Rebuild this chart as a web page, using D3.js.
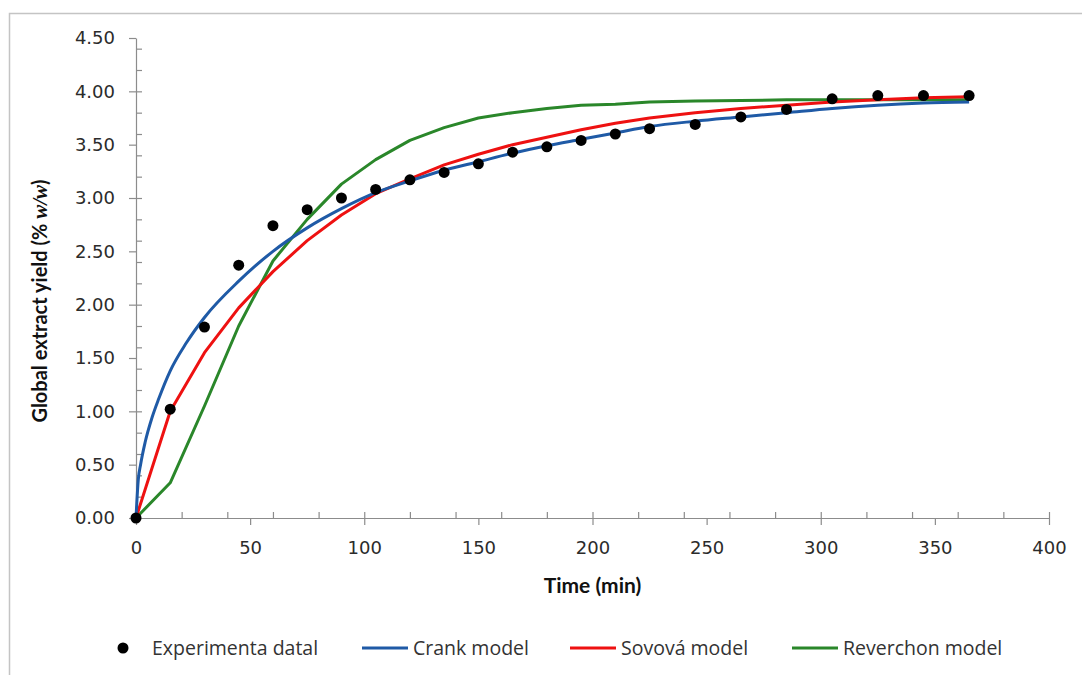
<!DOCTYPE html>
<html>
<head>
<meta charset="utf-8">
<script src="https://cdn.jsdelivr.net/npm/d3@7"></script>
<style>
  body { margin: 0; background: #fff; }
</style>
</head>
<body>
<div id="chart"></div>
<script>
// data
const expTime = [0, 15, 30, 45, 60, 75, 90, 105, 120, 135, 150, 165, 180, 195, 210, 225, 245, 265, 285, 305, 325, 345, 365]
const expYield = [0, 1.02, 1.79, 2.37, 2.74, 2.89, 3.0, 3.08, 3.17, 3.24, 3.32, 3.43, 3.48, 3.54, 3.6, 3.65, 3.69, 3.76, 3.83, 3.93, 3.96, 3.96, 3.96]

const crankTime = [0, 1, 2, 4, 7, 10, 15, 22, 30, 45, 60, 75, 90, 105, 120, 135, 150, 165, 180, 195, 210, 225, 245, 265, 285, 305, 325, 345, 365]
const crankYield = [0, 0.36, 0.5, 0.71, 0.94, 1.12, 1.38, 1.64, 1.88, 2.22, 2.5, 2.72, 2.9, 3.05, 3.16, 3.26, 3.34, 3.42, 3.49, 3.55, 3.61, 3.67, 3.72, 3.76, 3.8, 3.84, 3.87, 3.89, 3.9]

const modelTime = [0, 15, 30, 45, 60, 75, 90, 105, 120, 135, 150, 165, 180, 195, 210, 225, 245, 265, 285, 305, 325, 345, 365]
const sovovaYield = [0, 1.0, 1.55, 1.97, 2.31, 2.6, 2.84, 3.04, 3.18, 3.31, 3.41, 3.5, 3.57, 3.64, 3.7, 3.75, 3.8, 3.84, 3.87, 3.9, 3.92, 3.94, 3.95]
const reverchonYield = [0, 0.33, 1.05, 1.8, 2.41, 2.8, 3.13, 3.36, 3.54, 3.66, 3.75, 3.8, 3.84, 3.87, 3.88, 3.9, 3.91, 3.915, 3.92, 3.92, 3.92, 3.92, 3.92]

const yTicks = [0, 0.5, 1, 1.5, 2, 2.5, 3, 3.5, 4, 4.5]
const yMinor = [0, 0.2, 0.4, 0.6, 0.8, 1, 1.2, 1.4, 1.6, 1.8, 2, 2.2, 2.4, 2.6, 2.8, 3, 3.2, 3.4, 3.6, 3.8, 4, 4.2, 4.4]
const xTicks = [0, 50, 100, 150, 200, 250, 300, 350, 400]
const xMinor = [0, 20, 40, 60, 80, 100, 120, 140, 160, 180, 200, 220, 240, 260, 280, 300, 320, 340, 360, 380, 400]

const legendItems = [
  { label: 'Experimenta datal', type: 'dot', color: '#000' },
  { label: 'Crank model', type: 'line', color: '#1f5aa6' },
  { label: 'Sovová model', type: 'line', color: '#ee1111' },
  { label: 'Reverchon model', type: 'line', color: '#2a872a' },
]

// size
const W = 1082
const H = 675
const margin = { left: 136, right: 33, top: 38, bottom: 157 }
const width = W - margin.left - margin.right
const height = H - margin.top - margin.bottom

// scale
const x = d3.scaleLinear().domain([0, 400]).range([0, width])
const y = d3.scaleLinear().domain([0, 4.5]).range([height, 0])

const svg = d3
  .select('#chart')
  .append('svg')
  .attr('width', W)
  .attr('height', H)

// chart frame (runs off the right and bottom edges)
svg
  .append('rect')
  .attr('x', 9.5)
  .attr('y', 13.5)
  .attr('width', W + 20)
  .attr('height', H + 20)
  .attr('fill', 'none')
  .attr('stroke', '#c4c4c4')
  .attr('stroke-width', 1.5)

const plot = svg
  .append('g')
  .attr('transform', `translate(${margin.left}, ${margin.top})`)

const axisColor = '#8c8c8c'
const tickFont = '"DejaVu Sans", Verdana, sans-serif'

function styleAxis(g) {
  g.select('.domain').attr('stroke', axisColor).attr('stroke-width', 1.2)
  g.selectAll('.tick line').attr('stroke', axisColor).attr('stroke-width', 1.2)
  g.selectAll('.tick text')
    .attr('fill', '#2b2b2b')
    .style('font-family', tickFont)
    .style('font-size', '18px')
}

// y minor ticks (inside)
plot
  .append('g')
  .call(d3.axisLeft(y).tickValues(yMinor).tickSize(-6).tickFormat(''))
  .call(styleAxis)
  .call(g => g.select('.domain').remove())

// y axis major (outside)
plot
  .append('g')
  .call(
    d3
      .axisLeft(y)
      .tickValues(yTicks)
      .tickSize(7)
      .tickSizeOuter(0)
      .tickPadding(14)
      .tickFormat(d3.format('.2f')),
  )
  .call(styleAxis)

// x minor ticks (inside)
plot
  .append('g')
  .attr('transform', `translate(0, ${height})`)
  .call(d3.axisBottom(x).tickValues(xMinor).tickSize(-6).tickFormat(''))
  .call(styleAxis)
  .call(g => g.select('.domain').remove())

// x axis major (outside)
plot
  .append('g')
  .attr('transform', `translate(0, ${height})`)
  .call(
    d3
      .axisBottom(x)
      .tickValues(xTicks)
      .tickSize(7)
      .tickSizeOuter(0)
      .tickPadding(16)
      .tickFormat(d3.format('d')),
  )
  .call(styleAxis)

// x-axis label
plot
  .append('text')
  .attr('text-anchor', 'middle')
  .attr('x', width / 2)
  .attr('y', height + 75)
  .style('font-family', 'Lato, "Open Sans", sans-serif')
  .style('font-weight', 'bold')
  .style('font-size', '21px')
  .attr('fill', '#111')
  .text('Time (min)')

// y-axis label
const yLabel = plot
  .append('text')
  .attr('text-anchor', 'middle')
  .attr('transform', `translate(-89, ${height / 2 + 23}) rotate(-90)`)
  .style('font-family', 'Lato, "Open Sans", sans-serif')
  .style('font-weight', 'bold')
  .style('font-size', '20px')
  .attr('fill', '#111')
yLabel.append('tspan').text('Global extract yield (% ')
yLabel
  .append('tspan')
  .style('font-family', '"Liberation Serif", serif')
  .style('font-style', 'italic')
  .style('font-size', '21px')
  .text('w/w')
yLabel.append('tspan').text(')')

// lines
const line = d3
  .line()
  .x(d => x(d[0]))
  .y(d => y(d[1]))

const series = [
  { t: modelTime, v: reverchonYield, color: legendItems[3].color, curve: d3.curveLinear },
  { t: modelTime, v: sovovaYield, color: legendItems[2].color, curve: d3.curveLinear },
  { t: crankTime, v: crankYield, color: legendItems[1].color, curve: d3.curveMonotoneX },
]

series.forEach(s => {
  plot
    .append('path')
    .datum(s.t.map((t, i) => [t, s.v[i]]))
    .attr('fill', 'none')
    .attr('stroke', s.color)
    .attr('stroke-width', 3)
    .attr('stroke-linejoin', 'round')
    .attr('d', line.curve(s.curve))
})

// experimental points
plot
  .selectAll('circle.point')
  .data(expTime.map((t, i) => [t, expYield[i]]))
  .join('circle')
  .attr('class', 'point')
  .attr('cx', d => x(d[0]))
  .attr('cy', d => y(d[1]))
  .attr('r', 5.5)
  .attr('fill', '#000')

// legend
const legendY = 648
const legendX = [123, 362, 570, 792]
const legend = svg
  .selectAll('g.legend')
  .data(legendItems)
  .join('g')
  .attr('class', 'legend')
  .attr('transform', (d, i) => `translate(${legendX[i]}, ${legendY})`)

legend
  .filter(d => d.type === 'dot')
  .append('circle')
  .attr('r', 5.5)
  .attr('fill', d => d.color)

legend
  .filter(d => d.type === 'line')
  .append('line')
  .attr('x1', 0)
  .attr('x2', 46)
  .attr('stroke', d => d.color)
  .attr('stroke-width', 3)

legend
  .append('text')
  .attr('x', d => (d.type === 'dot' ? 29 : 51))
  .attr('y', 7)
  .style('font-family', '"Open Sans", sans-serif')
  .style('font-size', '19.5px')
  .attr('fill', '#333')
  .text(d => d.label)
</script>
</body>
</html>
